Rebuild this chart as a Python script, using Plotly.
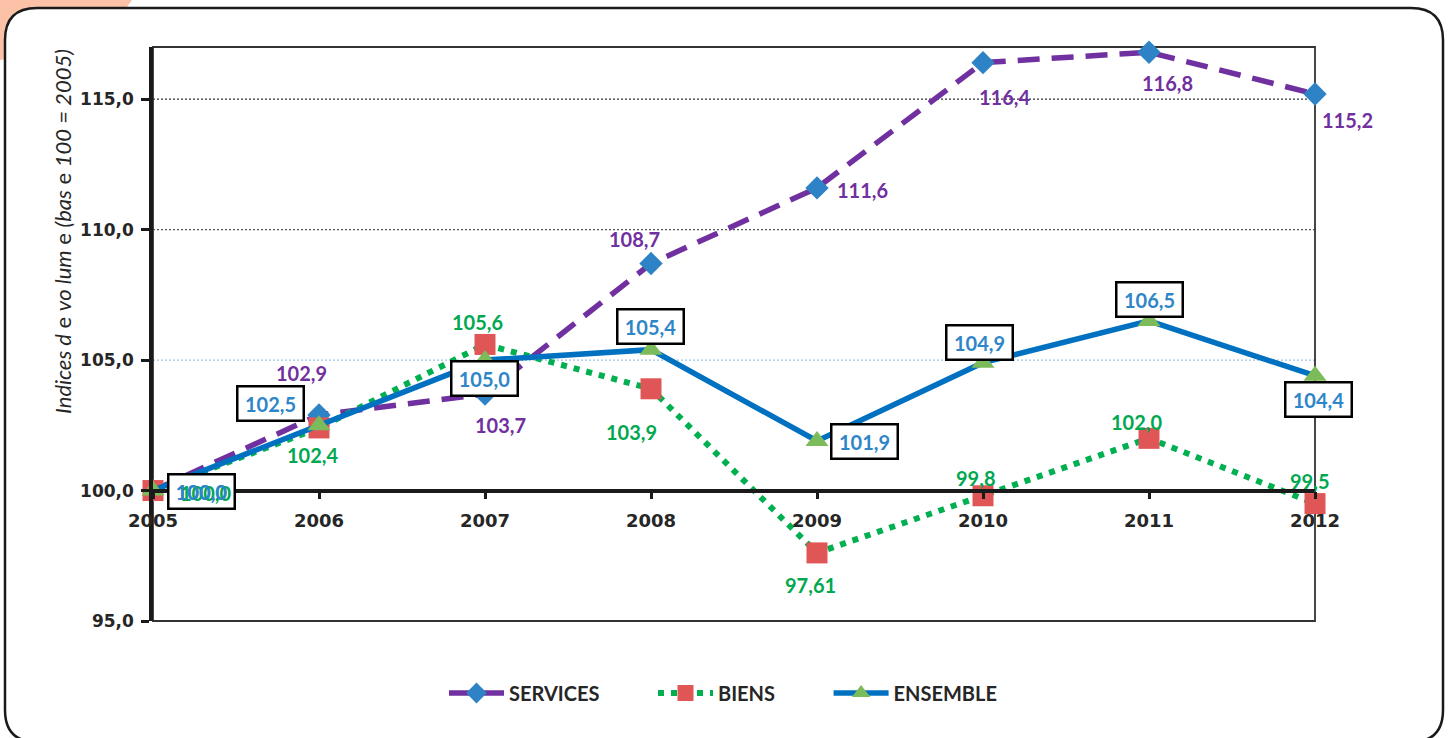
import plotly.graph_objects as go

# ---------------- data ----------------
years = [2005, 2006, 2007, 2008, 2009, 2010, 2011, 2012]
services = [100.0, 102.9, 103.7, 108.7, 111.6, 116.4, 116.8, 115.2]
biens = [100.0, 102.4, 105.6, 103.9, 97.61, 99.8, 102.0, 99.5]
ensemble = [100.0, 102.5, 105.0, 105.4, 101.9, 104.9, 106.5, 104.4]

services_labels = ["", "102,9", "103,7", "108,7", "111,6", "116,4", "116,8", "115,2"]
biens_labels = ["100,0", "102,4", "105,6", "103,9", "97,61", "99,8", "102,0", "99,5"]
ensemble_labels = ["100,0", "102,5", "105,0", "105,4", "101,9", "104,9", "106,5", "104,4"]

series_names = ["SERVICES", "BIENS", "ENSEMBLE"]

y_ticks = [95, 100, 105, 110, 115]
y_tick_text = ["95,0", "100,0", "105,0", "110,0", "115,0"]

# ---------------- layout geometry (pixels) ----------------
W, H = 1451, 738
L, R, T, B = 153, 1315, 47, 621
YMIN, YMAX = 95, 117

def px(xp):
    return (xp - L) / (R - L)

def py(yp):
    return (B - yp) / (B - T)

# label offsets (pixels) relative to points
srv_off = [(0, 0), (-18, 42), (15, -31), (-17, 25), (45, -2), (21, -34), (18, -31), (32, -26)]
bie_off = [(50, -4), (-7, -27), (-8, 22), (-20, -43), (-7, -32), (-8, 18), (-13, 16), (-6, 23)]
ens_off = [(48, -1), (-49, 22), (-1, -18), (-1, 23), (47, -1), (-4, 20), (0, 21), (3, -24)]

PURPLE = "#7030A0"
GREEN = "#00B050"
BLUE = "#0070C0"
LBLUE = "#2E86C8"
DARK = "#262626"
LABEL_FONT = "Lato"
PAD = "\u00a0" * 10

fig = go.Figure()

fig.add_trace(go.Scatter(
    x=years, y=services, name=series_names[0] + PAD, mode="lines+markers",
    line=dict(color=PURPLE, width=5.5, dash="22px,12px"),
    marker=dict(symbol="diamond", size=18, color="#2E83C6"),
    cliponaxis=False,
))
fig.add_trace(go.Scatter(
    x=years, y=biens, name=series_names[1] + PAD, mode="lines+markers",
    line=dict(color=GREEN, width=6, dash="6px,7px"),
    marker=dict(symbol="square", size=21, color="#E05656"),
    cliponaxis=False,
))
fig.add_trace(go.Scatter(
    x=years, y=ensemble, name=series_names[2], mode="lines+markers",
    line=dict(color=BLUE, width=5.5),
    marker=dict(symbol="triangle-up", size=20, color="#7CBB5A"),
    cliponaxis=False,
))

annotations = []
for yr, v, t, (dx, dy) in zip(years, services, services_labels, srv_off):
    if t:
        annotations.append(dict(x=yr, y=v, xref="x", yref="y", text=t, showarrow=False,
                                xshift=dx, yshift=dy,
                                font=dict(family=LABEL_FONT, size=20, color=PURPLE, weight="bold")))
for yr, v, t, (dx, dy) in zip(years, biens, biens_labels, bie_off):
    if yr == 2005:
        continue
    annotations.append(dict(x=yr, y=v, xref="x", yref="y", text=t, showarrow=False,
                            xshift=dx, yshift=dy,
                            font=dict(family=LABEL_FONT, size=20, color="#00A84F", weight="bold")))
for yr, v, t, (dx, dy) in zip(years, ensemble, ensemble_labels, ens_off):
    annotations.append(dict(x=yr, y=v, xref="x", yref="y", text=t, showarrow=False,
                            xshift=dx, yshift=dy, width=60, height=28, borderpad=2,
                            bordercolor="#000000", borderwidth=2.5, bgcolor="white",
                            font=dict(family=LABEL_FONT, size=20, color=LBLUE, weight="bold")))
# overlapping 2005 labels (biens behind ensemble text)
dx, dy = bie_off[0]
annotations.append(dict(x=years[0], y=biens[0], xref="x", yref="y", text=biens_labels[0],
                        showarrow=False, xshift=dx + 2, yshift=dy + 2,
                        font=dict(family=LABEL_FONT, size=20, color="#00A84F", weight="bold")))
dx, dy = ens_off[0]
annotations.append(dict(x=years[0], y=ensemble[0], xref="x", yref="y", text=ensemble_labels[0],
                        showarrow=False, xshift=dx, yshift=dy,
                        font=dict(family=LABEL_FONT, size=20, color=LBLUE, weight="bold")))

# y axis title
annotations.append(dict(
    x=px(62), y=py(232), xref="paper", yref="paper", showarrow=False, textangle=-90,
    xanchor="center", yanchor="middle",
    text="<i>Indices d</i> e <i>vo lum</i> e <i>(bas</i> e <i>100 = 2005)</i>",
    font=dict(family="Lato", size=22, color=DARK),
))

shapes = []
# salmon tab top-left
shapes.append(dict(type="path", xref="paper", yref="paper", layer="below",
                   path=f"M {px(0)},{py(0)} L {px(132)},{py(0)} L {px(100)},{py(45)} L {px(0)},{py(60)} Z",
                   fillcolor="#FBC2A8", line=dict(width=0)))
# rounded frame
r = 32
x0, x1, y0, y1 = 5, 1443, 8, 742
frame = (f"M {px(x0 + r)},{py(y0)} L {px(x1 - r)},{py(y0)} "
         f"Q {px(x1)},{py(y0)} {px(x1)},{py(y0 + r)} "
         f"L {px(x1)},{py(y1 - r)} Q {px(x1)},{py(y1)} {px(x1 - r)},{py(y1)} "
         f"L {px(x0 + r)},{py(y1)} Q {px(x0)},{py(y1)} {px(x0)},{py(y1 - r)} "
         f"L {px(x0)},{py(y0 + r)} Q {px(x0)},{py(y0)} {px(x0 + r)},{py(y0)} Z")
shapes.append(dict(type="path", xref="paper", yref="paper", layer="below", path=frame,
                   fillcolor="white", line=dict(color="#1a1a1a", width=2.5)))
# gridlines
for gv, gc in [(115, "#333333"), (110, "#555555"), (105, "#9DC3E6")]:
    shapes.append(dict(type="line", xref="paper", yref="y", x0=0, x1=1, y0=gv, y1=gv,
                       layer="below", line=dict(color=gc, width=1.2, dash="2px,2px")))
# plot box
shapes.append(dict(type="rect", xref="paper", yref="paper", x0=0, x1=1, y0=0, y1=1,
                   layer="below", line=dict(color="#333333", width=1.8)))

fig.update_layout(
    width=W, height=H,
    margin=dict(l=L, r=W - R, t=T, b=H - B, autoexpand=False),
    paper_bgcolor="white", plot_bgcolor="rgba(0,0,0,0)",
    showlegend=True,
    legend=dict(orientation="h", x=px(723), y=py(693), xanchor="center", yanchor="middle",
                font=dict(family="Lato", size=20, color=DARK, weight="bold"),
                bgcolor="rgba(0,0,0,0)", itemwidth=55),
    annotations=annotations,
    shapes=shapes,
    xaxis=dict(range=[2005, 2012], tickvals=years, ticktext=[str(y) for y in years],
               anchor="free", position=(100 - YMIN) / (YMAX - YMIN),
               showline=True, linecolor="#1a1a1a", linewidth=3.5,
               ticks="outside", ticklen=7, tickwidth=2.5, tickcolor="#1a1a1a",
               ticklabelstandoff=6,
               showgrid=False, zeroline=False,
               tickfont=dict(family="DejaVu Sans", size=18, color=DARK, weight="bold")),
    yaxis=dict(range=[YMIN, YMAX], tickvals=y_ticks, ticktext=y_tick_text,
               showline=True, linecolor="#1a1a1a", linewidth=3.5,
               ticks="outside", ticklen=8, tickwidth=3, tickcolor="#1a1a1a",
               ticklabelstandoff=4,
               showgrid=False, zeroline=False,
               tickfont=dict(family="DejaVu Sans", size=17, color=DARK, weight="bold")),
)

fig.write_html("out.html", config={"displayModeBar": False},
               post_script="document.body.style.margin='0';")
